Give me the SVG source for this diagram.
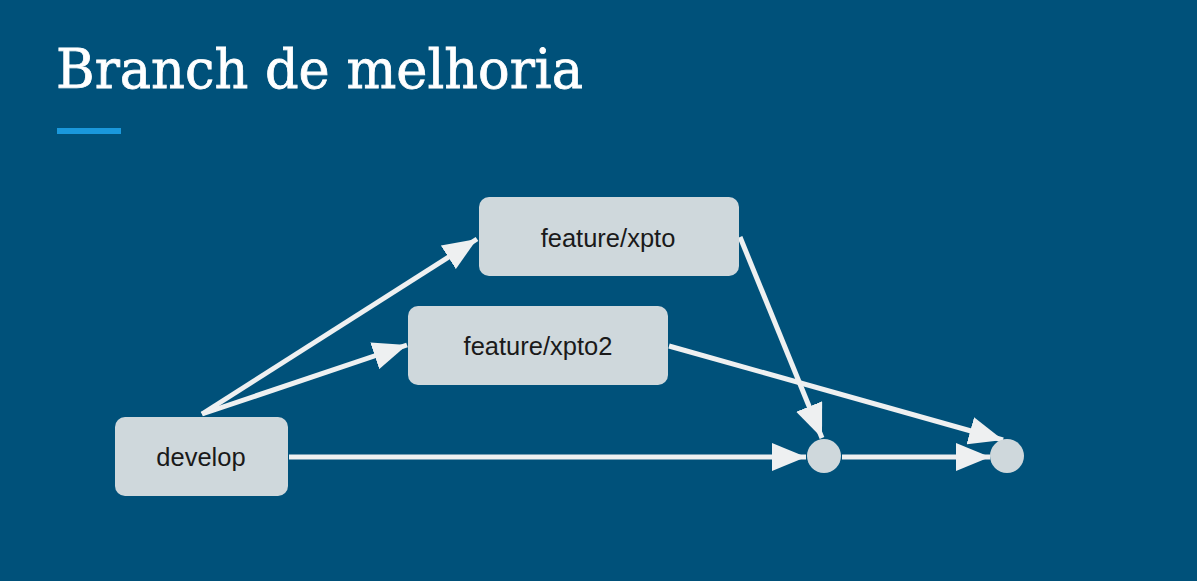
<svg xmlns="http://www.w3.org/2000/svg" width="1197" height="581" viewBox="0 0 1197 581">
<style>
.bg{fill:#00517a}
.box{fill:#cfd8dc}
.lbl{font-family:"Liberation Sans",Arial,sans-serif;font-size:25.5px;fill:#1a1a1a;text-anchor:middle}
.edge{stroke:#eef0f1;stroke-width:5;fill:none;marker-end:url(#ah)}
.title{font-family:"DejaVu Serif","Liberation Serif",serif;font-size:55px;fill:#ffffff;stroke:#ffffff;stroke-width:0.8}
</style>
<defs>
<marker id="ah" markerUnits="userSpaceOnUse" markerWidth="34" markerHeight="28" refX="34" refY="14" orient="auto">
<path d="M0,0 L34,14 L0,28 z" fill="#eef0f1"/>
</marker>
</defs>
<rect class="bg" x="0" y="0" width="1197" height="581"/>
<text class="title" x="56" y="88" textLength="527" lengthAdjust="spacingAndGlyphs">Branch de melhoria</text>
<rect x="57" y="128" width="64" height="6" fill="#1a98dc"/>
<g id="connectors">
<line class="edge" x1="202" y1="414" x2="477" y2="239"/>
<line class="edge" x1="202" y1="414" x2="407" y2="345"/>
<line class="edge" x1="289" y1="457" x2="806" y2="457"/>
<line class="edge" x1="740" y1="237" x2="822" y2="438"/>
<line class="edge" x1="669" y1="346" x2="1003" y2="440"/>
<line class="edge" x1="842" y1="457" x2="990" y2="457"/>
</g>
<g id="node-xpto">
<rect class="box" x="479" y="197" width="260" height="79" rx="10"/>
<text class="lbl" x="608" y="247">feature/xpto</text>
</g>
<g id="node-xpto2">
<rect class="box" x="408" y="306" width="260" height="79" rx="10"/>
<text class="lbl" x="538" y="355">feature/xpto2</text>
</g>
<g id="node-develop">
<rect class="box" x="115" y="417" width="173" height="79" rx="10"/>
<text class="lbl" x="201" y="466">develop</text>
</g>
<g id="node-c1">
<circle class="box" cx="824" cy="456" r="17"/>
</g>
<g id="node-c2">
<circle class="box" cx="1007" cy="456" r="17"/>
</g>
</svg>
